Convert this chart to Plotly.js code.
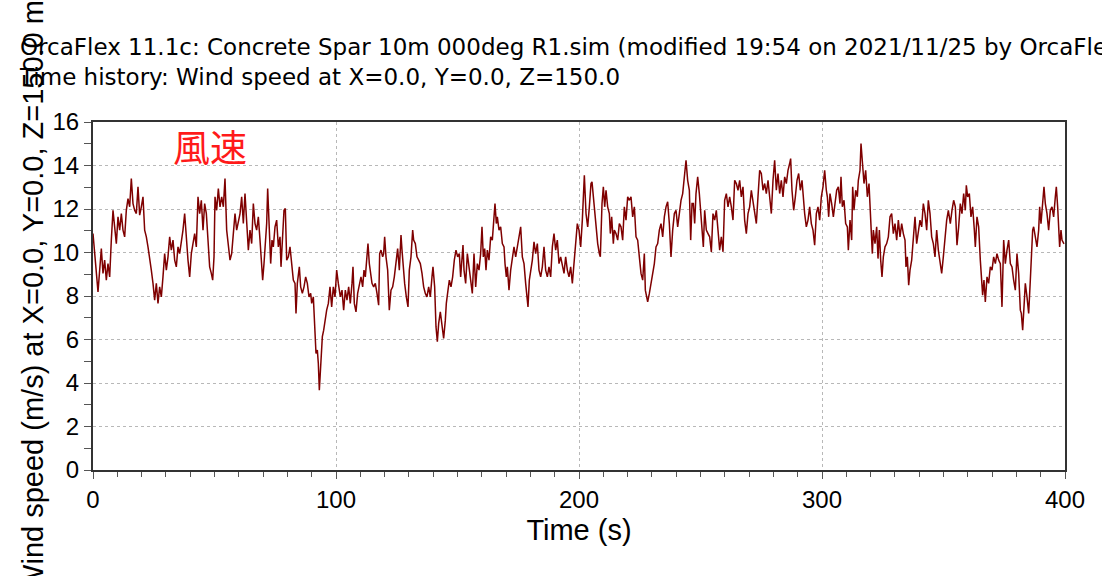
<!DOCTYPE html>
<html>
<head>
<meta charset="utf-8">
<script src="https://cdn.plot.ly/plotly-3.0.1.min.js"></script>
<style>html,body{margin:0;padding:0;background:#fff;}#chart{width:1102px;height:576px;}</style>
</head>
<body>
<div id="chart"></div>
<script>
const titleLines = ["OrcaFlex 11.1c: Concrete Spar 10m 000deg R1.sim (modified 19:54 on 2021/11/25 by OrcaFlex)",
                    "Time history: Wind speed at X=0.0, Y=0.0, Z=150.0"];
const xTitle = "Time (s)";
const yTitle = "Wind speed (m/s) at X=0.0, Y=0.0, Z=150.0 m";
const labelText = "風速";

const time = [
0.0,0.68,2.06,3.43,4.11,4.80,5.48,6.17,6.86,7.54,8.23,8.91,9.60,10.29,10.97,11.66,12.34,13.03,13.71,14.40,
15.09,15.77,16.46,17.14,17.83,18.52,19.20,19.89,20.57,21.26,21.95,22.63,23.32,24.00,24.69,25.37,26.06,26.75,27.43,28.12,
28.80,29.49,30.18,30.86,31.55,32.23,32.92,33.61,34.29,34.98,35.66,36.35,37.03,37.72,38.41,39.09,39.78,40.46,41.15,41.84,
42.52,43.21,43.89,44.58,45.27,45.95,46.64,47.32,48.01,48.69,
49.25,49.80,50.21,50.89,51.58,52.27,52.95,53.64,54.32,55.01,55.69,56.38,57.07,57.75,58.44,59.12,59.81,60.50,61.18,61.87,
62.55,63.24,63.93,64.61,65.30,65.98,66.67,67.35,68.04,68.73,69.41,69.82,70.37,70.92,71.47,71.88,72.57,73.12,73.66,74.21,
74.90,75.58,76.27,76.96,77.37,78.05,78.60,79.15,79.70,80.39,81.07,81.76,82.44,83.13,83.54,84.09,84.91,85.46,86.15,86.83,
87.52,88.20,88.89,89.58,89.99,90.67,91.09,91.50,91.77,92.32,92.73,93.14,93.55,93.97,94.38,94.93,95.48,96.16,96.85,97.53,
98.22,98.90,99.59,100.28,100.96,
101.78,102.47,103.15,103.84,104.52,105.21,105.89,106.58,106.99,107.54,108.23,108.91,109.60,110.28,110.97,111.52,112.07,112.75,113.16,113.71,
114.40,114.81,115.50,116.18,116.87,117.55,117.97,118.51,119.20,119.61,120.02,120.57,121.26,121.94,122.63,123.32,124.00,124.69,125.37,126.06,
126.75,127.16,127.57,128.25,128.94,129.63,130.17,130.86,131.55,131.96,132.64,133.33,134.02,134.70,135.39,136.07,136.76,137.44,138.13,138.82,
139.50,139.91,140.60,141.15,141.70,142.25,142.93,143.62,144.30,144.99,145.40,146.09,146.64,147.32,148.01,148.69,149.38,150.07,150.75,151.30,
151.58,152.26,152.68,153.36,154.05,154.73,155.42,156.10,156.79,157.48,158.16,158.85,159.53,160.08,160.63,161.18,161.73,162.28,162.96,163.65,
164.33,164.88,165.43,165.98,166.39,167.08,167.76,168.45,169.14,169.55,170.10,170.51,171.19,171.88,172.57,173.25,173.94,174.62,175.31,176.00,
176.68,177.37,178.05,178.74,179.01,179.56,180.11,180.80,181.48,182.17,182.85,183.54,184.23,184.91,185.60,186.28,186.97,187.65,188.34,189.03,
189.71,190.40,191.08,191.77,192.46,193.14,193.83,194.51,195.20,195.89,196.57,197.26,197.94,198.63,199.31,200.00,200.69,201.37,
202.20,202.89,203.57,204.26,204.94,205.35,205.90,206.31,207.00,207.69,208.37,208.78,209.47,210.02,210.57,211.12,211.80,212.49,212.90,213.45,
214.13,214.54,215.23,215.92,216.60,217.29,217.97,218.66,219.35,220.03,220.72,221.40,222.09,222.78,223.46,224.15,224.83,225.52,226.21,226.89,
227.30,227.85,228.26,228.95,229.63,230.32,231.01,231.69,232.38,233.06,233.75,234.44,235.12,235.81,236.49,237.18,237.86,238.55,239.24,239.92,
240.61,241.29,241.98,242.67,243.35,244.04,244.72,245.41,245.96,246.51,247.05,247.60,248.15,248.84,249.52,250.21,250.89,251.17,251.72,
252.40,253.09,253.77,254.46,255.14,255.83,256.51,257.20,257.89,258.57,259.26,259.94,260.63,261.32,262.00,262.69,263.37,264.06,264.75,265.43,
266.12,266.80,267.49,268.17,268.86,269.55,270.23,270.92,271.60,272.29,272.98,273.66,274.35,275.03,275.72,276.41,277.09,277.78,278.46,279.15,
279.84,280.52,281.21,281.89,282.58,283.26,283.95,284.64,285.32,286.01,286.69,287.10,287.65,288.34,289.03,289.71,290.40,291.08,291.77,292.32,
292.87,293.55,294.24,294.92,295.61,296.30,296.98,297.67,298.35,299.04,299.73,300.41,301.10,301.78,
302.20,302.75,303.29,303.98,304.67,305.35,306.04,306.72,307.41,307.82,308.37,309.06,309.74,310.43,310.84,311.53,312.21,312.62,313.17,313.86,
314.54,314.95,315.64,316.05,316.60,317.29,317.97,318.66,319.34,319.76,320.44,320.72,321.13,321.81,322.50,323.05,323.60,324.15,324.69,325.24,
325.93,326.61,327.30,327.99,328.67,329.36,330.04,330.73,331.42,332.10,332.79,333.47,334.16,334.57,335.12,335.67,336.22,336.90,337.59,338.27,
338.96,339.65,340.33,341.02,341.70,342.39,343.08,343.76,344.45,345.13,345.82,346.50,347.19,347.88,348.56,349.25,349.93,350.62,351.31,351.99,
352.81,353.49,354.18,354.87,355.55,356.24,356.92,357.61,358.30,358.98,359.39,359.94,360.63,361.31,362.00,362.69,363.10,363.78,364.47,365.15,
365.57,366.11,366.66,367.21,367.90,368.58,369.27,369.96,370.64,371.33,372.01,372.70,373.39,374.07,374.76,375.44,376.13,376.82,377.50,378.19,
378.87,379.56,380.24,380.93,381.62,382.03,382.58,383.12,383.67,384.36,385.05,385.73,386.14,386.69,387.10,387.79,388.47,389.16,389.57,390.12,
390.81,391.35,391.90,392.59,393.27,393.96,394.65,395.33,396.02,396.43,396.98,397.39,397.80,398.35,398.76,399.60
];

const windSpeed = [
10.87,9.95,8.19,10.18,9.04,9.65,8.73,9.49,8.88,10.57,11.94,11.18,10.41,11.64,11.03,11.79,11.03,10.72,11.94,12.48,
12.10,13.40,12.25,11.94,11.79,13.02,11.72,12.10,12.56,11.03,10.72,10.26,9.80,9.19,8.58,7.81,8.58,7.66,8.42,7.96,
8.88,9.95,9.19,9.80,10.72,10.11,10.57,9.65,9.34,10.26,9.95,10.41,11.03,11.79,10.57,9.65,8.88,9.95,10.41,10.87,
10.26,12.56,11.79,12.40,11.03,12.25,11.79,10.26,9.34,9.04,
8.73,9.80,12.56,11.94,12.94,12.10,12.56,12.10,13.40,11.03,10.41,9.65,9.95,11.03,11.79,11.03,11.49,11.79,12.56,11.33,
12.71,11.49,10.11,11.03,10.41,12.25,11.33,11.03,11.64,10.57,9.04,8.73,9.49,10.72,11.33,12.94,11.03,9.49,10.57,10.26,
11.18,11.49,10.26,10.72,9.34,10.87,11.94,12.02,9.65,9.80,10.26,9.49,8.73,8.58,7.20,8.58,9.34,8.42,8.12,8.42,
8.88,8.58,7.96,8.12,7.66,7.96,7.04,6.43,5.36,5.51,4.90,3.67,4.59,5.05,6.13,6.43,6.89,7.35,7.66,8.42,
7.50,8.42,7.96,9.19,8.58,
7.96,8.27,7.35,8.27,7.81,8.42,7.66,8.58,9.34,7.66,7.27,8.12,8.58,8.88,8.42,9.19,8.88,9.80,10.41,9.49,
9.04,8.58,8.42,8.58,8.12,7.58,9.95,10.11,9.80,9.95,10.72,9.80,9.19,7.35,8.27,8.42,8.88,9.49,10.18,9.19,
10.80,10.11,9.49,8.58,7.96,7.50,9.19,9.80,11.03,10.57,10.41,9.80,9.65,9.49,9.04,8.42,8.12,7.96,8.42,7.96,
8.88,9.34,8.42,6.59,5.90,6.74,7.27,6.74,6.05,6.89,7.66,8.27,8.73,8.42,8.88,9.65,10.11,9.80,9.95,8.88,
9.49,10.34,9.19,8.58,9.95,9.34,8.73,8.12,9.95,8.42,9.49,9.19,9.95,11.18,9.80,10.18,9.19,10.11,9.65,10.72,
10.57,11.64,12.25,11.33,11.64,11.03,11.18,10.41,10.26,9.49,8.88,9.34,8.27,9.19,9.65,10.26,9.80,10.26,10.57,11.18,
9.80,9.49,8.58,7.81,7.50,8.73,9.19,9.65,10.49,9.95,10.41,9.19,8.88,9.34,10.26,9.19,8.88,9.34,8.88,10.26,
10.87,10.11,10.57,9.49,9.80,9.34,9.04,9.80,9.19,8.88,9.34,8.58,9.65,10.57,11.33,11.03,10.26,11.49,
13.55,11.79,11.18,12.10,13.17,13.25,12.56,11.79,11.03,10.41,9.95,9.80,12.25,13.02,12.10,12.86,12.10,11.79,10.87,11.64,
10.41,11.03,10.87,10.57,11.33,11.18,10.57,12.10,11.49,12.56,12.40,12.56,11.64,12.10,10.72,10.57,9.80,9.04,8.73,9.95,
8.27,7.96,7.73,8.12,8.58,9.04,9.49,10.26,10.41,11.03,11.33,10.72,11.64,12.10,12.33,11.33,9.80,11.03,11.79,11.94,
11.18,11.79,12.40,12.71,13.63,14.24,13.32,12.86,10.57,12.25,12.25,11.33,12.71,13.48,12.71,11.79,11.03,10.26,11.94,
11.03,10.87,10.72,10.03,11.79,11.49,11.94,11.03,10.11,10.72,10.03,12.40,12.71,12.10,12.56,12.10,11.49,13.32,13.17,12.86,
13.32,12.56,13.02,11.49,10.87,11.79,12.10,12.86,12.40,11.94,11.33,12.56,13.78,13.63,12.86,13.17,12.71,13.32,12.56,11.79,
13.32,14.24,12.86,13.63,12.71,13.32,12.56,13.48,13.17,13.78,14.09,14.32,12.86,11.94,12.56,13.32,13.63,12.86,13.32,12.40,
11.79,11.18,11.49,12.10,11.33,11.03,10.34,11.79,12.10,11.49,12.56,13.02,13.78,12.86,
12.56,11.64,12.71,12.25,11.64,12.25,12.86,13.02,12.25,13.48,12.10,12.40,11.33,11.18,10.11,11.49,10.57,13.02,11.94,12.86,
12.56,13.32,13.78,15.01,13.94,13.17,13.78,12.56,13.17,11.79,10.57,9.95,11.03,10.41,11.18,9.72,11.03,9.65,8.88,9.80,
10.26,10.41,10.72,11.64,11.79,10.87,11.33,10.57,11.49,10.72,11.33,10.87,10.57,9.34,9.80,8.50,9.19,9.65,10.72,11.64,
10.41,11.03,11.49,11.18,12.25,11.79,11.03,12.40,11.79,10.72,10.41,9.80,11.03,10.11,9.65,9.04,9.80,10.87,11.49,11.94,
11.33,11.94,12.40,12.10,10.34,11.18,12.25,11.79,12.71,11.94,13.09,12.56,12.71,11.64,12.10,11.03,10.26,11.64,11.18,9.65,
9.04,8.04,8.73,7.73,8.88,8.58,9.34,9.19,9.80,9.49,9.95,9.65,9.49,7.50,10.57,9.49,10.11,10.57,9.49,9.34,
8.73,8.27,9.95,9.04,7.35,7.20,6.43,7.66,8.58,7.96,7.20,8.73,9.65,11.03,11.18,10.72,10.26,11.03,12.10,11.33,
12.56,13.02,12.25,11.79,11.03,11.94,12.10,11.64,12.56,13.02,12.10,11.33,10.26,11.03,10.57,10.40
];

const xTickVals = [0, 100, 200, 300, 400];
const yTickVals = [0, 2, 4, 6, 8, 10, 12, 14, 16];

const FONT = "Liberation Sans, Arial, sans-serif";

const trace = {
  type: "scatter", mode: "lines", x: time, y: windSpeed,
  line: {color: "#7f0000", width: 1.5}, hoverinfo: "skip", showlegend: false
};

const axisCommon = {
  showline: true, linecolor: "#333", linewidth: 2, mirror: true,
  ticks: "outside", ticklen: 7, tickwidth: 1, tickcolor: "#555",
  showgrid: true, gridcolor: "#b8b8b8", griddash: "dot", gridwidth: 1,
  zeroline: false, tickfont: {family: FONT, size: 24, color: "#000"}
};

const layout = {
  width: 1102, height: 576,
  margin: {l: 93, r: 37, t: 122, b: 106},
  paper_bgcolor: "#fff", plot_bgcolor: "#fff",
  title: {
    text: titleLines.join("<br>"),
    font: {family: "DejaVu Sans, sans-serif", size: 23, color: "#000"},
    xref: "container", x: 20/1102, xanchor: "left",
    yref: "container", y: 1 - 55/576, yanchor: "top"
  },
  xaxis: Object.assign({}, axisCommon, {
    range: [0, 400], tickvals: xTickVals,
    minor: {dtick: 10, ticklen: 5, tickcolor: "#555", showgrid: false, ticks: "outside"},
    title: {text: xTitle, font: {family: FONT, size: 29, color: "#000"}, standoff: 8}
  }),
  yaxis: Object.assign({}, axisCommon, {
    range: [0, 16], tickvals: yTickVals,
    minor: {dtick: 1, ticklen: 7, tickcolor: "#555", showgrid: false, ticks: "outside"},
    title: {text: yTitle, font: {family: FONT, size: 29, color: "#000"}, standoff: 0}
  }),
  annotations: [{
    text: labelText, xref: "paper", yref: "paper", x: 0.12, y: 0.93,
    xanchor: "center", yanchor: "middle", showarrow: false,
    font: {family: "Noto Sans CJK JP", size: 37, color: "#ff1a1a"}
  }]
};

Plotly.newPlot("chart", [trace], layout, {displayModeBar: false, staticPlot: true});
</script>
</body>
</html>
